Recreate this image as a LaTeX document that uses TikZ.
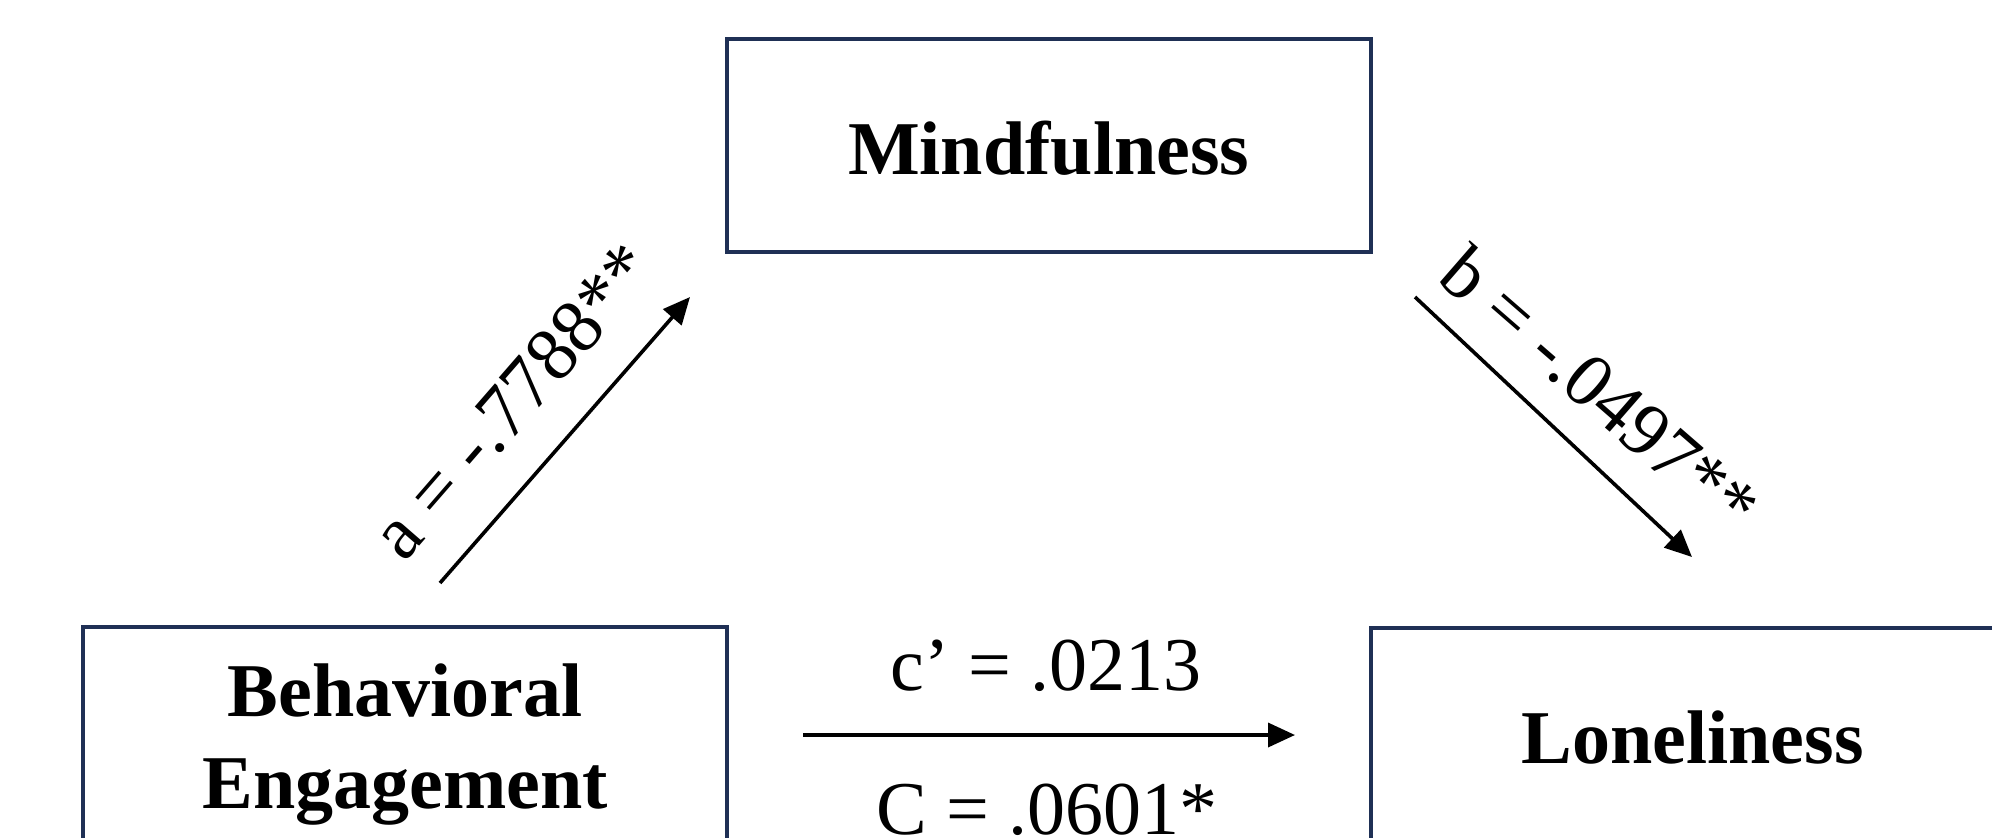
\documentclass[tikz,border=0pt]{standalone}
\usepackage{fontspec}
\setmainfont{Liberation Serif}
\usetikzlibrary{arrows.meta}
\definecolor{boxnavy}{RGB}{31,48,85}
\tikzset{
  varbox/.style={draw=boxnavy, line width=2pt, rectangle, inner sep=0pt, minimum width=322pt},
  boldtxt/.style={inner sep=0pt, anchor=base, font=\fontsize{38pt}{40pt}\selectfont\bfseries},
  regtxt/.style={inner sep=0pt, font=\fontsize{38pt}{40pt}\selectfont},
  patharrow/.style={line width=1.8pt, -{Triangle[length=13.5pt,width=12pt]}}
}
\begin{document}
\begin{tikzpicture}[x=0.5pt,y=-0.5pt]
\useasboundingbox (0,0) rectangle (1992,837);
\fill[white] (0,0) rectangle (1992,837);
\clip (0,0) rectangle (1992,837);
% boxes
\node[varbox, minimum height=106.2pt] (mind) at (1048.7,145.5) {};
\node[varbox, minimum height=136.35pt] (beh) at (405.35,763.65) {};
\node[varbox, minimum height=135.85pt] (lone) at (1692.7,764.15) {};
% box texts
\node[boldtxt] (mindtxt) at (1048.7,174) {Mindfulness};
\node[boldtxt] (behtxt1) at (405,716) {Behavioral};
\node[boldtxt] (behtxt2) at (405,808) {Engagement};
\node[boldtxt] (lonetxt) at (1692.7,763) {Loneliness};
% arrow end points
\coordinate (as) at (440,583);
\coordinate (ae) at (690,297);
\coordinate (bs) at (1415,297);
\coordinate (be) at (1692,557);
\coordinate (cs) at (803,735);
\coordinate (ce) at (1295,735);
\draw[patharrow] (as) -- (ae);
\draw[patharrow] (bs) -- (be);
\draw[patharrow] (cs) -- (ce);
% labels
\node[regtxt, rotate=49] (alab) at (513,401) {a = -.7788**};
\node[regtxt, rotate=-41] (blab) at (1600,389) {b = -.0497**};
\node[regtxt, anchor=base] (cplab) at (1046,690) {c’ = .0213};
\node[regtxt, anchor=base] (clab) at (1047,834) {C = .0601*};
\end{tikzpicture}
\end{document}
